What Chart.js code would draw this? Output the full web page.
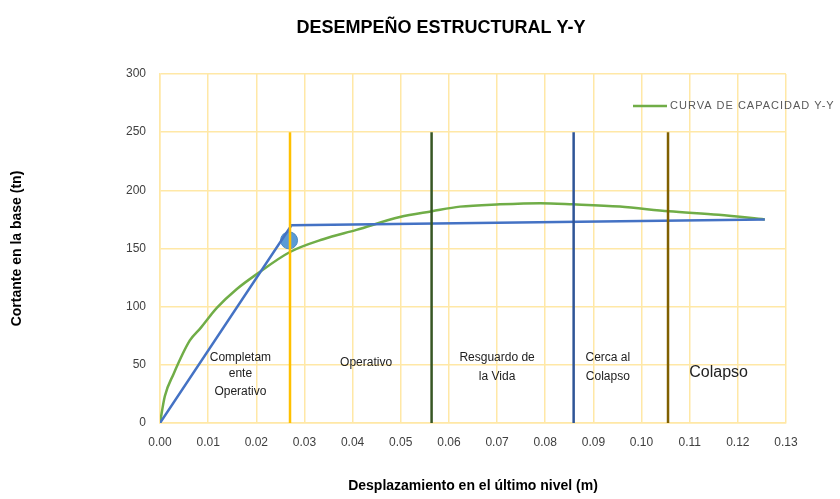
<!DOCTYPE html>
<html>
<head>
<meta charset="utf-8">
<script src="https://cdn.jsdelivr.net/npm/chart.js@4/dist/chart.umd.min.js"></script>
<style>
	html, body { margin: 0; padding: 0; background: #fff; }
	#box { width: 840px; height: 499px; }
</style>
</head>
<body>
<div id="box"><canvas id="myChart"></canvas></div>
<script>
Chart.defaults.color = '#404040';
Chart.defaults.font.family = "'Liberation Sans', Arial, sans-serif";


// DATA
// ================================================================
var curvaX = [0, 0.001, 0.0028, 0.0062, 0.0085, 0.0104, 0.0118, 0.0159, 0.0201, 0.027, 0.0339, 0.0408, 0.0498, 0.0565, 0.0623, 0.0706, 0.079, 0.0858, 0.0955, 0.1057, 0.116, 0.1256];
var curvaY = [0, 23, 42, 71, 82, 92, 99, 115, 128, 147, 158, 166, 177, 182, 186, 188, 189, 188, 186, 182, 179, 175];

var bilinealX = [0, 0.0273, 0.1256];
var bilinealY = [0, 170, 175];

var fluenciaX = [0.0268];
var fluenciaY = [157];

var nivelesX = [0.0270, 0.0564, 0.0859, 0.1055];
var nivelesTop = 250;
var nivelesColor = ['#FFC000', '#375623', '#2F5597', '#806000'];

var zonas = [
	{ x: 0.0167, y: [56, 42, 27], txt: ['Completam', 'ente', 'Operativo'], size: 12 },
	{ x: 0.0428, y: [52], txt: ['Operativo'], size: 12 },
	{ x: 0.0700, y: [56, 40], txt: ['Resguardo de', 'la Vida'], size: 12 },
	{ x: 0.0930, y: [56, 40], txt: ['Cerca al', 'Colapso'], size: 12 },
	{ x: 0.1160, y: [43], txt: ['Colapso'], size: 16 }
];

var titulo = 'DESEMPEÑO ESTRUCTURAL Y-Y';
var leyenda = 'CURVA DE CAPACIDAD Y-Y';


function pts(xs, ys) {
	return xs.map(function (x, i) { return { x: x, y: ys[i] }; });
}

var data = { datasets: [] };

nivelesX.forEach(function (x, i) {
	data.datasets.push({
		label: 'nivel' + i,
		data: pts([x, x], [0, nivelesTop]),
		showLine: true,
		borderColor: nivelesColor[i],
		borderWidth: 2.5,
		pointRadius: 0
	});
});

data.datasets.push({
	label: 'Bilineal',
	data: pts(bilinealX, bilinealY),
	showLine: true,
	borderColor: '#4472C4',
	borderWidth: 2.5,
	pointRadius: 0
});

data.datasets.push({
	label: leyenda,
	data: pts(curvaX, curvaY),
	showLine: true,
	borderColor: '#70AD47',
	borderWidth: 2.5,
	cubicInterpolationMode: 'monotone',
	pointRadius: 0
});

data.datasets.push({
	label: 'Fluencia',
	data: pts(fluenciaX, fluenciaY),
	backgroundColor: '#5B9BD5',
	borderColor: '#4A8AC4',
	borderWidth: 1,
	pointRadius: 8.5
});


// Plugins (titulo, leyenda y textos de zonas)
// ================================================================
var textos = {
	id: 'textos',
	afterDraw: function (chart) {
		var c = chart.ctx;
		var xs = chart.scales.x, ys = chart.scales.y;
		c.save();
		c.textAlign = 'center';
		c.textBaseline = 'middle';

		c.fillStyle = '#000';
		c.font = "bold 18px 'Liberation Sans', Arial, sans-serif";
		c.fillText(titulo, 441, 28);

		// leyenda
		c.strokeStyle = '#70AD47';
		c.lineWidth = 2.5;
		c.beginPath();
		c.moveTo(633, 106);
		c.lineTo(667, 106);
		c.stroke();
		c.textAlign = 'left';
		c.fillStyle = '#595959';
		c.font = "11px 'Liberation Sans', Arial, sans-serif";
		c.letterSpacing = '1px';
		c.fillText(leyenda, 670, 106);
		c.letterSpacing = '0px';

		c.textAlign = 'center';
		c.fillStyle = '#222';
		zonas.forEach(function (z) {
			c.font = z.size + "px 'Liberation Sans', Arial, sans-serif";
			z.txt.forEach(function (t, k) {
				c.fillText(t, xs.getPixelForValue(z.x), ys.getPixelForValue(z.y[k]));
			});
		});
		c.restore();
	}
};

var Plugins = {
	legend: { display: false },
	title: { display: false },
	tooltip: { enabled: false }
};


// OPTIONS
// ================================================================
var gridColor = '#FFE8A6';

var options = {
	responsive: true,
	maintainAspectRatio: false,
	animation: false,
	plugins: Plugins,
	layout: { padding: { top: 74, right: 54, left: 0, bottom: 0 } },

	scales: {
		x: {
			type: 'linear',
			min: 0,
			max: 0.13,
			afterFit: function (s) { s.height = 76; },
			title: {
				display: true,
				text: 'Desplazamiento en el último nivel (m)',
				color: '#000',
				font: { weight: 'bold', size: 14 },
				padding: { top: 4, bottom: 4 }
			},
			ticks: {
				stepSize: 0.01,
				padding: 12,
				maxRotation: 0,
				autoSkip: false,
				font: { size: 12 },
				callback: function (v) { return v.toFixed(2); }
			},
			grid: { color: gridColor, lineWidth: 1.5, drawTicks: false },
			border: { color: gridColor, width: 1.5 }
		},

		y: {
			min: 0,
			max: 300,
			afterFit: function (s) { s.width = 160; },
			title: {
				display: true,
				text: 'Cortante en la base (tn)',
				color: '#000',
				font: { weight: 'bold', size: 14 },
				padding: { top: 9, bottom: 9 }
			},
			ticks: {
				stepSize: 50,
				padding: 14,
				font: { size: 12 }
			},
			grid: { color: gridColor, lineWidth: 1.5, drawTicks: false },
			border: { color: gridColor, width: 1.5 }
		}
	}
};


// Create the chart
var ctx = document.getElementById('myChart').getContext('2d');
var Render = new Chart(ctx, {
	type: 'scatter',
	data: data,
	options: options,
	plugins: [textos]
});
</script>
</body>
</html>
